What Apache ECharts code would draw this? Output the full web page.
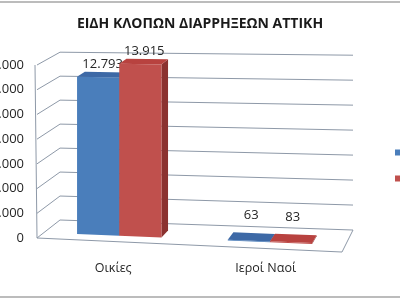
<!DOCTYPE html>
<html>
<head>
<meta charset="utf-8">
<script src="https://cdn.jsdelivr.net/npm/echarts@6/dist/echarts.min.js"></script>
<style>
html,body{margin:0;padding:0;background:#fff;}
#chart{width:400px;height:300px;}
</style>
</head>
<body>
<div id="chart"></div>
<script>
const titleText = 'ΕΙΔΗ ΚΛΟΠΩΝ ΔΙΑΡΡΗΞΕΩΝ ΑΤΤΙΚΗ';
const categories = ['Οικίες', 'Ιεροί Ναοί'];
const seriesNames = ['Σειρά1', 'Σειρά2'];
const series1 = [12793, 63];
const series2 = [13915, 83];
const yTicks = [0, 2000, 4000, 6000, 8000, 10000, 12000, 14000];

const FONT = '"Open Sans", "Noto Sans", sans-serif';
const colors = [
  {front: '#4a7ebb', top: '#3d69a6', side: '#2f5587'},
  {front: '#c0504d', top: '#b8423f', side: '#8b3230'}
];

function fmt(v) {
  return String(Math.round(v)).replace(/\B(?=(\d{3})+(?!\d))/g, '.');
}

// pseudo-3D projection from the front plane of the grid
function makeProj(cs) {
  const base = cs.y + cs.height;
  return function (xf, h, f) {
    const t = (xf - cs.x) / cs.width;
    const dx = f * (23 - 12 * t);
    const dy = f * (-18 - 4 * t);
    const s = 1 - 0.03 * f;
    const skew = (xf - cs.x) * 0.046 * (1 - 0.5 * h / cs.height);
    return [xf + dx, base + skew + dy - h * s];
  };
}

function barRender(sIdx) {
  return function (params, api) {
    const cs = params.coordSys;
    const P = makeProj(cs);
    const ci = api.value(0), v = api.value(1);
    const c = api.coord([ci, v]);
    const c0 = api.coord([ci, 0]);
    const band = api.size([1, 0])[0];
    const bw = 0.28 * band;
    const xl = sIdx === 0 ? c[0] - bw : c[0];
    const xr = xl + bw;
    const h = Math.max(c0[1] - c[1], 0.6);
    const f1 = 0.3, f2 = 0.66;
    const col = colors[sIdx];
    const front = [P(xl, 0, f1), P(xr, 0, f1), P(xr, h, f1), P(xl, h, f1)];
    const top = [P(xl, h, f1), P(xr, h, f1), P(xr, h, f2), P(xl, h, f2)];
    const side = [P(xr, 0, f1), P(xr, 0, f2), P(xr, h, f2), P(xr, h, f1)];
    const lp = P((xl + xr) / 2, h, f2);
    return {
      type: 'group',
      children: [
        {type: 'polygon', shape: {points: side}, style: {fill: col.side}},
        {type: 'polygon', shape: {points: front}, style: {fill: col.front}},
        {type: 'polygon', shape: {points: top}, style: {fill: col.top}},
        {type: 'text', style: {
          text: fmt(v), x: lp[0] - 3, y: lp[1] - (h < 5 ? 11 : 1),
          align: 'center', verticalAlign: 'bottom',
          font: '13px ' + FONT, fill: '#262626'
        }}
      ]
    };
  };
}

function gridRender(params, api) {
  const cs = params.coordSys;
  const P = makeProj(cs);
  const v = api.value(1);
  const base = cs.y + cs.height;
  const h = base - api.coord([0, v])[1];
  const x0 = cs.x, x1 = cs.x + cs.width;
  const lineStyle = {stroke: '#8e99a8', lineWidth: 1, fill: null};
  const children = [
    {type: 'polyline', shape: {points: [P(x0, h, 0), P(x0, h, 1), P(x1, h, 1)]}, style: lineStyle}
  ];
  if (v === 0) {
    children.push({type: 'polyline', shape: {points: [P(x0, 0, 0), P(x1, 0, 0), P(x1, 0, 1)]}, style: lineStyle});
    children.push({type: 'line', shape: {x1: P(x0, 0, 0)[0], y1: P(x0, 0, 0)[1], x2: P(x0, cs.height, 0)[0] - 2, y2: P(x0, cs.height, 0)[1]}, style: {stroke: '#8e99a8', lineWidth: 1}});
  }
  return {type: 'group', children: children};
}

const chart = echarts.init(document.getElementById('chart'), null, {renderer: 'canvas'});
chart.setOption({
  animation: false,
  backgroundColor: '#ffffff',
  title: {
    text: titleText, left: 'center', top: 12,
    textStyle: {fontFamily: FONT, fontSize: 14, fontWeight: 'bold', color: '#1a1a1a'}
  },
  legend: {
    data: seriesNames,
    orient: 'vertical', left: 395, top: 147, padding: 0,
    itemWidth: 7, itemHeight: 6, itemGap: 15, icon: 'rect',
    textStyle: {fontFamily: FONT, fontSize: 11, color: '#333'}
  },
  graphic: [
    {type: 'line', shape: {x1: 0, y1: 2, x2: 400, y2: 2}, style: {stroke: '#a6a6a6', lineWidth: 1.5}},
    {type: 'line', shape: {x1: 0, y1: 297, x2: 400, y2: 297}, style: {stroke: '#a6a6a6', lineWidth: 1.5}}
  ],
  grid: {left: 37, right: 58, top: 65, bottom: 62, containLabel: false, outerBoundsMode: 'none'},
  xAxis: {
    type: 'category', data: categories,
    axisLine: {show: false}, axisTick: {show: false}, splitLine: {show: false},
    axisLabel: {margin: 24, fontFamily: FONT, fontSize: 12.5, color: '#262626'}
  },
  yAxis: {
    type: 'value', min: 0, max: 14000, interval: 2000,
    axisLine: {show: false}, axisTick: {show: false}, splitLine: {show: false},
    axisLabel: {margin: 13, fontFamily: FONT, fontSize: 13, color: '#262626', formatter: fmt}
  },
  series: [
    {
      type: 'custom', name: '_grid', silent: true, z: 1,
      renderItem: gridRender, encode: {x: 0, y: 1},
      data: yTicks.map(v => [0, v])
    },
    {
      type: 'custom', name: seriesNames[0], z: 2, itemStyle: {color: colors[0].front},
      renderItem: barRender(0), encode: {x: 0, y: 1},
      data: series1.map((v, i) => [i, v])
    },
    {
      type: 'custom', name: seriesNames[1], z: 3, itemStyle: {color: colors[1].front},
      renderItem: barRender(1), encode: {x: 0, y: 1},
      data: series2.map((v, i) => [i, v])
    }
  ]
});
</script>
</body>
</html>
